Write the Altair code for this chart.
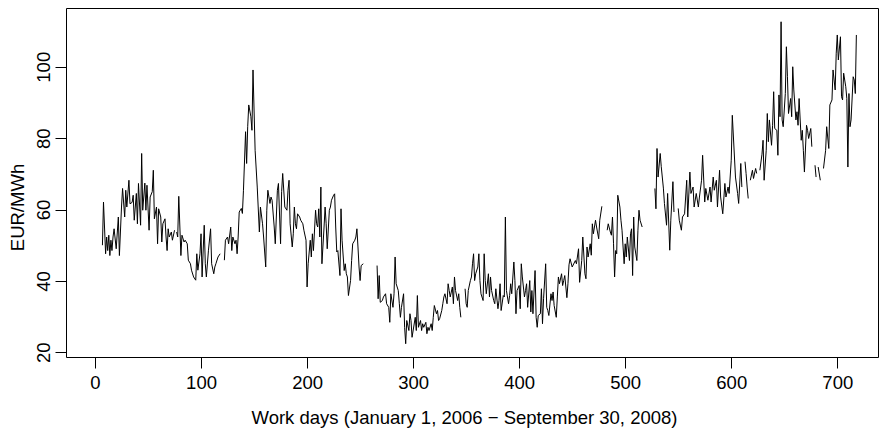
import altair as alt
import pandas as pd

# Work-day index (x) and price in EUR/MWh (y); None marks a break in the series
DAYS = [
    7, 8, 10, 11, 12, 13, 14, 15, 16, 17,
    18, 20, 22, 23, 25, 26, 28, 29, 30, 32,
    33, 35, 36, 37, 39, 40, 41, 43, 44, 45,
    47, 48, 49, 51, 52, 54, 55, 56, 58, 59,
    60, 62, 63, 64, 66, 67, 68, 69, 70, 72,
    73, 75, 76, 77, 78, 79, 81, 82, 84, 85,
    87, 88, 90, 91, 93, 95, 96, 97, 99, 100,
    101, 103, 104, 105, 107, 109, 110, 112, 113, 114,
    116, 118, 120, 122, 123, 125, 126, 128, 129, 130,
    132, 133, 134, 135, 136, 138, 139, 140, 142, 143,
    144, 145, 147, 148, 149, 151, 153, 155, 156, 158,
    159, 161, 162, 163, 165, 166, 167, 169, 170, 172,
    173, 175, 176, 177, 179, 181, 182, 183, 184, 186,
    187, 188, 189, 190, 191, 193, 194, 196, 197, 199,
    200, 201, 203, 204, 205, 206, 208, 209, 210, 211,
    212, 213, 214, 216, 217, 218, 219, 221, 222, 223,
    225, 226, 227, 228, 229, 231, 232, 233, 235, 236,
    237, 238, 239, 241, 242, 243, 245, 246, 247, 248,
    249, 250, 251, 253, 259, 266, 267, 268, 269, 271,
    272, 274, 275, 277, 278, 279, 281, 282, 283, 284,
    286, 287, 288, 289, 291, 292, 293, 294, 296, 297,
    298, 299, 302, 303, 304, 305, 307, 308, 309, 310,
    312, 313, 314, 315, 317, 318, 319, 320, 322, 323,
    324, 325, 327, 328, 329, 330, 332, 333, 334, 335,
    337, 338, 339, 340, 342, 343, 344, 345, 347, 349,
    350, 351, 352, 354, 355, 356, 357, 358, 359, 361,
    362, 363, 364, 366, 367, 368, 369, 371, 372, 373,
    374, 376, 377, 378, 380, 381, 382, 383, 385, 386,
    387, 388, 390, 391, 392, 393, 395, 396, 397, 398,
    400, 401, 402, 403, 405, 406, 407, 408, 410, 411,
    412, 413, 415, 416, 417, 418, 420, 421, 422, 423,
    425, 426, 427, 428, 430, 431, 432, 433, 435, 436,
    437, 438, 440, 441, 442, 443, 445, 446, 447, 448,
    450, 453, 454, 456, 457, 459, 460, 462, 463, 464,
    465, 467, 468, 469, 470, 472, 473, 475, 476, 478,
    480, 483, 484, 486, 487, 488, 489, 490, 491, 492,
    493, 495, 496, 497, 499, 500, 501, 502, 504, 505,
    506, 507, 508, 509, 511, 512, 513, 514, 516, 522,
    528, 529, 530, 531, 533, 534, 536, 537, 539, 540,
    542, 543, 545, 546, 548, 550, 551, 553, 554, 556,
    558, 559, 561, 562, 564, 565, 567, 569, 570, 572,
    573, 575, 576, 578, 580, 581, 583, 584, 586, 587,
    589, 590, 592, 594, 595, 597, 598, 600, 601, 604,
    606, 607, 609, 610, 611, 613, 614, 615, 616, 617,
    618, 620, 621, 623, 624, 625, 627, 629, 630, 631,
    633, 634, 635, 636, 638, 639, 640, 641, 643, 644,
    645, 646, 647, 648, 649, 651, 652, 653, 654, 656,
    657, 658, 659, 661, 662, 663, 664, 666, 667, 668,
    669, 671, 672, 673, 675, 676, 677, 679, 680, 681,
    682, 684, 685, 687, 689, 690, 692, 693, 695, 696,
    698, 699, 700, 701, 703, 704, 705, 706, 708, 709,
    710, 711, 712, 713, 715, 716, 717, 718,
]

PRICES = [
    50.0, 62.1, 47.6, 52.3, 48.5, 52.8, 47.1, 51.4, 48.5, 52.3,
    54.6, 49.0, 57.9, 47.1, 60.7, 65.9, 57.9, 65.4, 60.7, 68.2,
    61.6, 62.0, 64.0, 57.0, 64.5, 56.0, 67.3, 55.6, 75.7, 59.8,
    67.4, 59.8, 66.8, 54.2, 63.5, 65.0, 71.0, 57.4, 60.7, 50.4,
    60.2, 57.9, 50.9, 56.0, 57.4, 52.3, 48.5, 54.6, 52.3, 53.7,
    51.4, 54.2, None, 53.7, 52.3, 63.7, 47.1, 52.8, 50.9, 51.4,
    50.4, 45.8, 44.8, 43.0, 41.1, 40.2, 47.6, 43.0, 47.6, 53.2,
    41.1, 55.6, 44.8, 41.1, 48.6, 54.6, 44.8, 42.0, 43.9, 44.8,
    46.7, 47.6, None, 45.8, 51.4, 52.3, 50.4, 55.1, 48.5, 52.3,
    50.4, 51.4, 47.6, 52.3, 59.3, 60.3, 58.9, 65.4, 81.8, 72.9,
    83.2, 89.3, 86.0, 82.2, 99.1, 76.6, 66.3, 53.7, 60.7, 56.0,
    52.3, 43.9, 59.8, 65.4, 61.7, 63.5, 62.6, 55.1, 50.4, 65.4,
    67.3, 50.4, 65.0, 70.1, 60.7, 59.8, 65.4, 68.2, 56.0, 49.5,
    53.2, 60.7, 56.0, 54.6, 58.8, 57.9, 57.0, 56.0, 54.2, 51.4,
    38.3, 44.8, 51.4, 46.7, 53.2, 48.5, 59.8, 56.0, 55.1, 60.2,
    52.3, 66.3, 44.8, 55.1, 60.7, 56.0, 49.0, 59.8, 60.7, 62.6,
    64.0, 64.4, 55.1, 48.1, 48.5, 41.5, 60.2, 51.4, 42.9, 44.8,
    42.0, 41.1, 35.9, 40.1, 45.7, 50.4, 51.4, 52.3, 54.6, 49.5,
    43.9, 40.1, 44.3, 44.8, None, 44.3, 35.0, 41.5, 34.0, 34.5,
    35.5, 36.4, 33.6, 32.6, 28.4, 36.4, 32.6, 36.4, 46.7, 39.2,
    37.3, 33.6, 29.8, 32.6, 36.4, 27.0, 22.4, 28.9, 26.1, 30.8,
    28.9, 24.2, 29.8, 26.1, 35.9, 27.0, 28.9, 26.1, 28.0, 27.0,
    28.4, 25.2, 27.0, 26.1, 28.0, 26.1, 29.8, 33.1, 30.8, 31.7,
    28.9, 29.4, 31.7, 33.6, 35.5, 36.4, 33.6, 39.2, 37.3, 35.5,
    38.3, 33.6, 41.1, 37.3, 34.5, 36.4, 32.6, 29.8, None, 37.8,
    33.6, 32.6, 37.3, 40.1, 41.1, 44.8, 47.6, 40.1, 42.0, 43.9,
    47.6, 40.1, 36.4, 34.5, 47.6, 40.1, 36.4, 42.0, 35.5, 41.1,
    37.3, 34.5, 33.6, 37.8, 32.2, 34.5, 39.2, 31.7, 35.9, 35.5,
    57.9, 37.3, 33.6, 35.9, 39.2, 36.4, 45.3, 40.1, 30.8, 37.3,
    38.7, 32.2, 44.8, 41.1, 35.5, 37.3, 39.2, 32.6, 40.1, 31.3,
    37.3, 30.8, 42.9, 29.8, 27.0, 30.3, 30.8, 37.8, 28.0, 35.0,
    44.8, 32.6, 31.7, 30.3, 36.4, 34.5, 36.9, 33.1, 29.8, 35.5,
    41.1, 39.2, 42.0, 38.7, 40.1, 41.5, 35.3, 39.2, 44.5, 46.2,
    43.9, 45.7, 44.8, 49.0, 39.6, 45.7, 52.3, 42.0, 40.6, 49.5,
    46.7, 50.4, 47.2, 56.0, 53.2, 57.0, 55.1, 51.8, 57.0, 60.9,
    None, 54.2, 56.0, 53.7, 52.8, 57.9, 50.4, 41.1, 48.5, 47.6,
    64.0, 60.7, 57.0, 54.2, 44.8, 50.4, 46.7, 52.3, 45.7, 53.2,
    54.6, 41.5, 57.9, 49.5, 45.7, 54.2, 59.8, 57.0, 55.1, None,
    65.9, 60.2, 77.1, 69.1, 75.7, 72.0, 66.0, 61.7, 55.6, 64.5,
    48.6, 57.0, 67.8, 59.3, None, 60.3, 57.0, 54.2, 57.9, 58.8,
    68.2, 57.9, 70.5, 64.5, 66.3, 60.7, 64.5, 60.7, 63.5, 68.2,
    75.2, 62.1, 65.9, 62.6, 66.3, 62.1, 69.1, 65.4, 68.2, 60.7,
    71.0, 63.5, 58.8, 67.3, 63.5, 66.3, 64.5, 73.8, 86.4, 69.1,
    64.5, 61.7, 72.9, 66.3, None, 73.4, 70.1, 66.3, 63.1, None,
    68.2, 71.0, 68.7, 71.5, 70.1, None, 71.0, 75.5, 79.4, 68.2,
    76.6, 86.9, 79.0, 85.1, 78.0, 83.6, 93.0, 82.7, 82.2, 75.2,
    92.1, 86.0, 112.6, 85.1, 83.2, 92.5, 105.6, 97.2, 86.9, 91.1,
    86.0, 100.0, 93.5, 85.1, 87.4, 83.6, 91.1, 79.4, 82.2, 76.6,
    70.5, 83.6, 82.2, 79.9, 82.7, 77.6, None, 72.4, 69.1, None,
    71.9, 68.2, None, 71.5, 76.6, 83.2, 77.1, 89.3, 90.7, 99.1,
    93.5, 103.8, 108.9, 101.9, 108.4, 91.6, 90.7, 98.2, 94.4, 91.1,
    71.9, 92.5, 83.2, 85.1, 97.2, 96.3, 92.5, 108.9,
]

X_TICKS = [0, 100, 200, 300, 400, 500, 600, 700]
Y_TICKS = [20, 40, 60, 80, 100]
X_TITLE = "Work days (January 1, 2006 \u2212 September 30, 2008)"
Y_TITLE = "EUR/MWh"

# split the series into unbroken pieces at the missing values
segment = []
s = 0
for p in PRICES:
    if p is None:
        s += 1
    segment.append(s)
df = pd.DataFrame({"day": DAYS, "price": PRICES, "segment": segment})
df = df.dropna(subset=["price"])

FONT = "Liberation Sans"
FS = 18.5

chart = (
    alt.Chart(df)
    .mark_line(color="black", strokeWidth=1, clip=True)
    .encode(
        x=alt.X(
            "day:Q",
            scale=alt.Scale(domain=[-27.35, 738.4], nice=False, zero=False),
            axis=alt.Axis(
                values=X_TICKS,
                format="d",
                title=X_TITLE,
                grid=False,
                domain=False,
                ticks=True,
                tickSize=11,
                tickColor="black",
                tickWidth=1,
                labelFont=FONT,
                labelFontSize=FS,
                labelColor="black",
                labelBaseline="alphabetic",
                labelPadding=20,
                labelFlush=False,
                labelOverlap=False,
                titleFont=FONT,
                titleFontSize=FS,
                titleFontWeight="normal",
                titleColor="black",
                titleX=398,
                titleY=66,
                titleAlign="center",
                titleBaseline="alphabetic",
            ),
        ),
        y=alt.Y(
            "price:Q",
            scale=alt.Scale(domain=[18.68, 116.46], nice=False, zero=False),
            axis=alt.Axis(
                values=Y_TICKS,
                format="d",
                title=Y_TITLE,
                grid=False,
                domain=False,
                ticks=True,
                tickSize=11,
                tickColor="black",
                tickWidth=1,
                labelFont=FONT,
                labelFontSize=FS,
                labelColor="black",
                labelAngle=270,
                labelAlign="center",
                labelBaseline="alphabetic",
                labelPadding=6,
                labelFlush=False,
                labelOverlap=False,
                titleFont=FONT,
                titleFontSize=FS,
                titleFontWeight="normal",
                titleColor="black",
                titleAngle=270,
                titleX=-43,
                titleY=199,
                titleAlign="center",
                titleBaseline="alphabetic",
            ),
        ),
        detail="segment:N",
    )
    .properties(
        width=812,
        height=349,
        autosize=alt.AutoSizeParams(type="none"),
        padding={"left": 66, "top": 8, "right": 1, "bottom": 77},
        background="white",
    )
    .configure_view(stroke="black", strokeWidth=1)
)

chart.save("out.html", embed_options={"renderer": "svg", "actions": False})
